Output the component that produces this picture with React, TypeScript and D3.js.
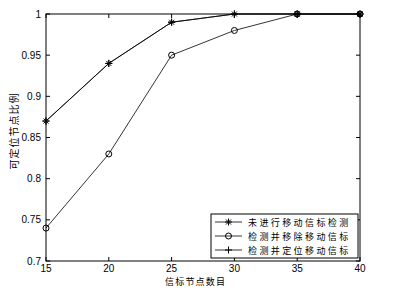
import React from "react";
import * as d3 from "d3";

const nodeCounts = [15, 20, 25, 30, 35, 40];
const noDetection = [0.87, 0.94, 0.99, 1, 1, 1];
const detectRemove = [0.74, 0.83, 0.95, 0.98, 1, 1];
const detectLocate = [0.87, 0.94, 0.99, 1, 1, 1];
const xTicks = [15, 20, 25, 30, 35, 40];
const yTicks = [0.7, 0.75, 0.8, 0.85, 0.9, 0.95, 1];
const seriesNames = ["未进行移动信标检测", "检测并移除移动信标", "检测并定位移动信标"];

const W = 395, H = 290;
const M = { left: 46, right: 360, top: 14, bottom: 261 };

function Marker({ kind, x, y }: { kind: string; x: number; y: number }) {
  if (kind === "circle") return <circle cx={x} cy={y} r={3} fill="none" stroke="#000" strokeWidth={1} />;
  if (kind === "plus")
    return (
      <g stroke="#000" strokeWidth={1}>
        <line x1={x - 3.5} x2={x + 3.5} y1={y} y2={y} />
        <line x1={x} x2={x} y1={y - 3.5} y2={y + 3.5} />
      </g>
    );
  return (
    <g stroke="#000" strokeWidth={1}>
      <line x1={x - 3.5} x2={x + 3.5} y1={y} y2={y} />
      <line x1={x} x2={x} y1={y - 3.5} y2={y + 3.5} />
      <line x1={x - 2.5} x2={x + 2.5} y1={y - 2.5} y2={y + 2.5} />
      <line x1={x - 2.5} x2={x + 2.5} y1={y + 2.5} y2={y - 2.5} />
    </g>
  );
}

export default function App() {
  const x = d3.scaleLinear().domain([15, 40]).range([M.left, M.right]);
  const y = d3.scaleLinear().domain([0.7, 1]).range([M.bottom, M.top]);
  const line = d3.line<number>().x((_, i) => x(nodeCounts[i])).y((d) => y(d));
  const series = [
    { data: noDetection, kind: "star" },
    { data: detectRemove, kind: "circle" },
    { data: detectLocate, kind: "plus" },
  ];
  const font = "'Liberation Sans', Arial, sans-serif";
  const cjk = "'Noto Sans CJK SC', sans-serif";
  const tl = 4;
  const lg = { x0: 211, x1: 358, y0: 214, y1: 258 };
  return (
    <svg width={W} height={H} style={{ position: "absolute", left: 0, top: 0, background: "#fff" }}>
      <rect x={0} y={0} width={W} height={H} fill="#fff" />
      {/* axes box */}
      <rect x={M.left} y={M.top} width={M.right - M.left} height={M.bottom - M.top} fill="none" stroke="#000" strokeWidth={1} />
      {xTicks.map((t) => (
        <g key={"x" + t}>
          <line x1={x(t)} x2={x(t)} y1={M.bottom} y2={M.bottom - tl} stroke="#000" />
          <line x1={x(t)} x2={x(t)} y1={M.top} y2={M.top + tl} stroke="#000" />
          <text x={x(t)} y={M.bottom + 11} fontSize={10} fontFamily={font} textAnchor="middle">{t}</text>
        </g>
      ))}
      {yTicks.map((t) => (
        <g key={"y" + t}>
          <line x1={M.left} x2={M.left + tl} y1={y(t)} y2={y(t)} stroke="#000" />
          <line x1={M.right} x2={M.right - tl} y1={y(t)} y2={y(t)} stroke="#000" />
          <text x={M.left - 5} y={y(t) + 3.5} fontSize={10} fontFamily={font} textAnchor="end">{t}</text>
        </g>
      ))}
      {series.map((s, si) => (
        <g key={si}>
          <path d={line(s.data) || ""} fill="none" stroke="#000" strokeWidth={0.8} />
          {s.data.map((v, i) => (
            <Marker key={i} kind={s.kind} x={x(nodeCounts[i])} y={y(v)} />
          ))}
        </g>
      ))}
      {/* legend */}
      <rect x={lg.x0} y={lg.y0} width={lg.x1 - lg.x0} height={lg.y1 - lg.y0} fill="#fff" stroke="#000" strokeWidth={1} />
      {series.map((s, i) => {
        const ly = lg.y0 + 8 + i * 14;
        return (
          <g key={"l" + i}>
            <line x1={215} x2={242} y1={ly} y2={ly} stroke="#000" strokeWidth={0.8} />
            <Marker kind={s.kind} x={228.5} y={ly} />
            <text x={248} y={ly + 4} fontSize={9} fontFamily={cjk} letterSpacing={2.4}>{seriesNames[i]}</text>
          </g>
        );
      })}
      <text x={165} y={285} fontSize={9} fontFamily={cjk} letterSpacing={1.2}>信标节点数目</text>
      <text transform={`translate(18,131) rotate(-90)`} fontSize={10} fontFamily={cjk} textAnchor="middle" letterSpacing={1}>可定位节点比例</text>
    </svg>
  );
}
